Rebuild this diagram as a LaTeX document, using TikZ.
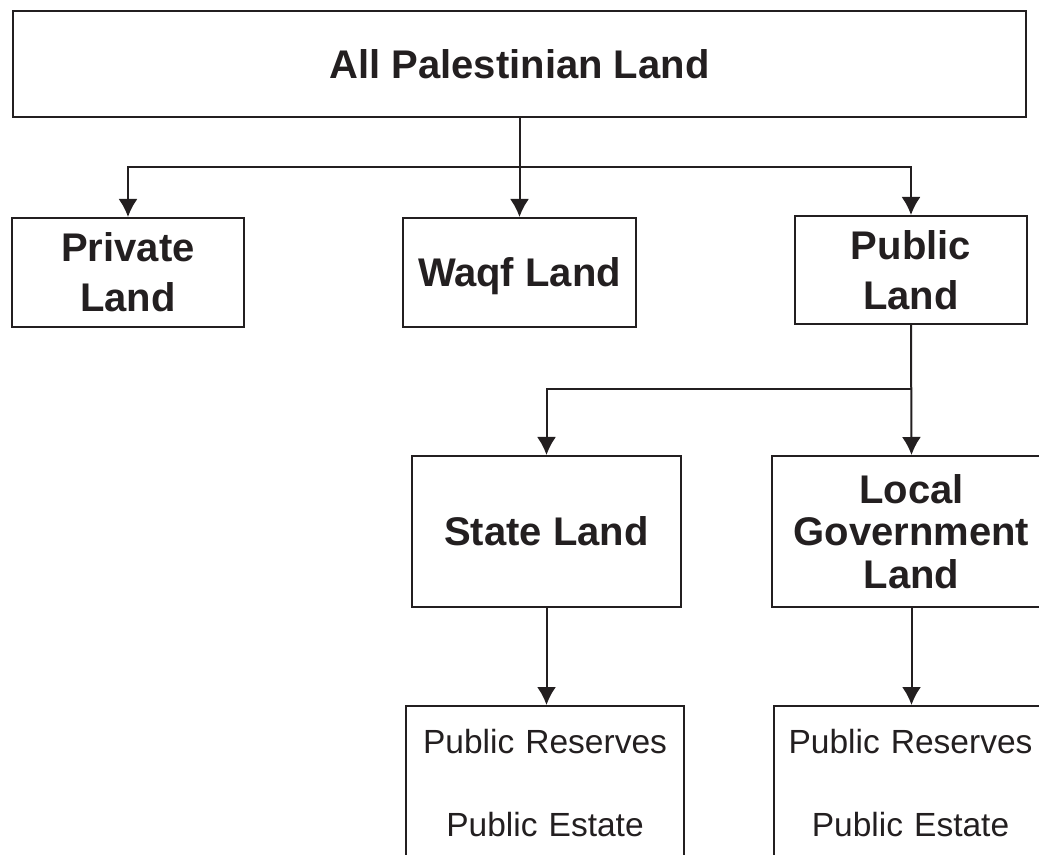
\documentclass[tikz,border=0pt]{standalone}
\usepackage{fontspec}
\setmainfont{Liberation Sans}
\usepackage{tikz}
\usetikzlibrary{arrows.meta, positioning}
\definecolor{ink}{RGB}{35,31,32}
\tikzstyle{arr}     = [draw=ink, line width=1pt, -{Latex[length=9pt,width=9.5pt]}]
\tikzstyle{box}     = [draw=ink, rectangle, line width=1pt, text=ink, align=center, inner sep=0pt,
                       font=\fontsize{20}{25}\selectfont\bfseries]
\tikzstyle{resbox}  = [draw=ink, rectangle, line width=1pt, text=ink, align=center, inner sep=0pt,
                       anchor=north, text height=23.5pt, text depth=170pt,
                       font=\fontsize{16.75}{41.5}\selectfont]

\begin{document}
\begin{tikzpicture}[x=0.5pt, y=-0.5pt]

\useasboundingbox (0,0) rectangle (1039,855);
\clip (0,0) rectangle (1039,855);

% nodes
\node [box, minimum width=506.5pt, minimum height=53pt]  (all)     at (519.5,64)  {All Palestinian Land};
\node [box, minimum width=116pt, minimum height=54.5pt]  (private) at (128,272.5)  {Private\\Land};
\node [box, minimum width=116.5pt, minimum height=54.5pt, text depth=0pt] (waqf) at (519.5,272.5) {Waqf Land};
\node [box, minimum width=116pt, minimum height=54pt]    (public)  at (911,270)    {Public\\Land};
\node [box, minimum width=134.5pt, minimum height=75.5pt] (state)  at (546.5,531.5) {State Land};
\node [box, minimum width=139.5pt, minimum height=75.5pt,
       font=\fontsize{20}{21.25}\selectfont\bfseries]    (local)   at (911.5,531.5) {Local\\Government\\Land};
\node [resbox, text width=139pt]   (stateres) at (545,705)   {Public Reserves\\Public Estate};
\node [resbox, text width=136.5pt] (localres) at (910.5,705) {Public Reserves\\Public Estate};

\coordinate (fork)  at (519,167);
\coordinate (split) at (911,389);

% edges
\draw [arr] (all.south) -- (waqf.north);
\draw [arr] (fork) -| (private.north);
\draw [arr] (fork) -| (public.north);
\draw [arr] (public.south) -- (local.north);
\draw [arr] (split) -| (state.north);
\draw [arr] (state.south) -- (state.south |- stateres.north);
\draw [arr] (local.south) -- (local.south |- localres.north);

\end{tikzpicture}
\end{document}
